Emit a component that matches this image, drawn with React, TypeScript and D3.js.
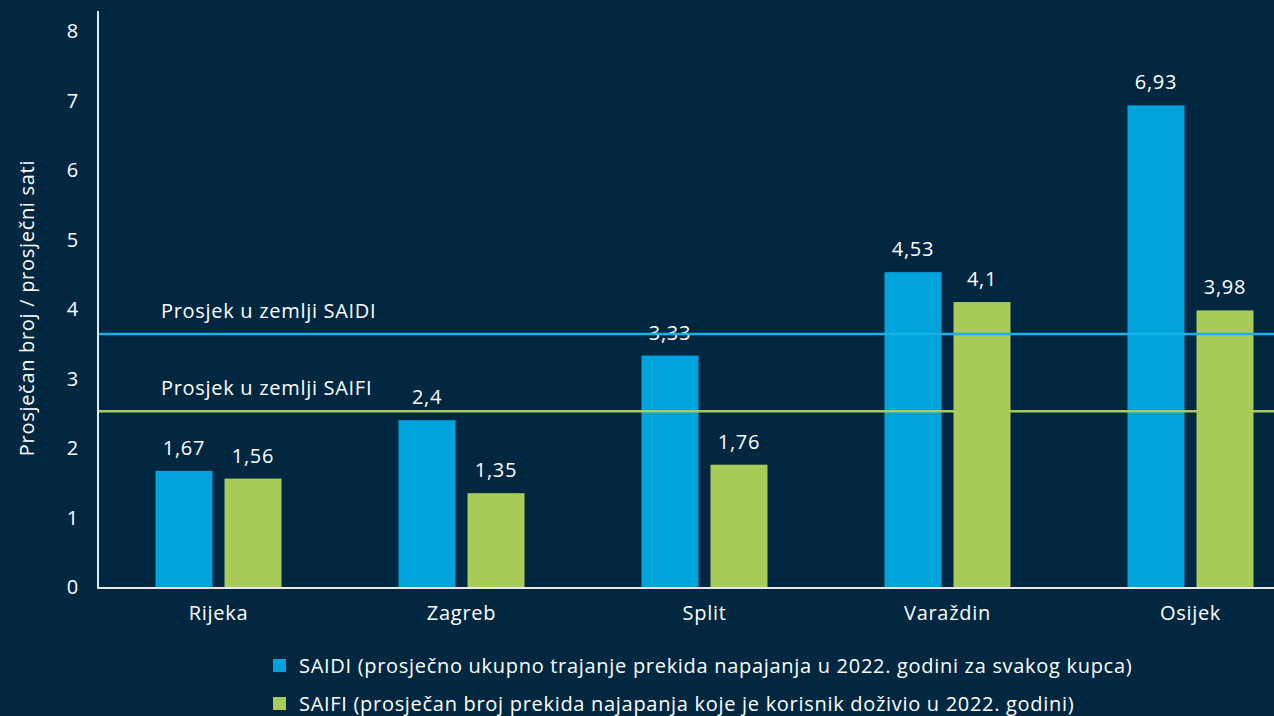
import React from "react";
import * as d3 from "d3";

const categories = ["Rijeka", "Zagreb", "Split", "Varaždin", "Osijek"];
const saidi = [1.67, 2.4, 3.33, 4.53, 6.93];
const saifi = [1.56, 1.35, 1.76, 4.1, 3.98];
const saidiLabels = ["1,67", "2,4", "3,33", "4,53", "6,93"];
const saifiLabels = ["1,56", "1,35", "1,76", "4,1", "3,98"];
const avgSaidi = 3.64;
const avgSaifi = 2.53;
const yTicks = [0, 1, 2, 3, 4, 5, 6, 7, 8];
const legendItems = [
  "SAIDI (prosječno ukupno trajanje prekida napajanja u 2022. godini za svakog kupca)",
  "SAIFI (prosječan broj prekida najapanja koje je korisnik doživio u 2022. godini)",
];

const W = 1274;
const H = 716;
const BG = "#012840";
const BLUE = "#00a3dc";
const GREEN = "#a9cb5a";
const FONT = "'Open Sans', sans-serif";
const FS = 20;
const LS = 0.7;

export default function App() {
  const x = d3.scaleBand<string>().domain(categories).range([97, 1312]);
  const y = d3.scaleLinear().domain([0, 8]).range([587, 31]);
  const barW = 57;
  const gap = 12;
  const series = [
    { vals: saidi, labels: saidiLabels, color: BLUE, off: -gap / 2 - barW },
    { vals: saifi, labels: saifiLabels, color: GREEN, off: gap / 2 },
  ];
  return (
    <svg width={W} height={H} style={{ position: "absolute", left: 0, top: 0, display: "block" }} fontFamily={FONT} letterSpacing={LS}>
      <rect x={0} y={0} width={W} height={H} fill={BG} />
      {series.map((s, si) =>
        categories.map((c, i) => {
          const cx = (x(c) as number) + x.bandwidth() / 2;
          const bx = cx + s.off;
          return (
            <g key={`${si}-${i}`}>
              <rect x={bx} y={y(s.vals[i])} width={barW} height={y(0) - y(s.vals[i])} fill={s.color} />
              <text x={bx + barW / 2} y={y(s.vals[i]) - 16} fill="#ffffff" fontSize={FS} textAnchor="middle">
                {s.labels[i]}
              </text>
            </g>
          );
        })
      )}
      <line x1={98} x2={W} y1={y(avgSaidi)} y2={y(avgSaidi)} stroke="#1ab0e8" strokeWidth={2.5} />
      <line x1={98} x2={W} y1={y(avgSaifi)} y2={y(avgSaifi)} stroke={GREEN} strokeWidth={2.5} />
      <text x={161} y={318} fill="#fff" fontSize={FS}>Prosjek u zemlji SAIDI</text>
      <text x={161} y={395} fill="#fff" fontSize={FS}>Prosjek u zemlji SAIFI</text>
      <line x1={98} x2={98} y1={11} y2={588} stroke="#e8e8e8" strokeWidth={2} />
      <line x1={97} x2={W} y1={588} y2={588} stroke="#e8e8e8" strokeWidth={2} />
      {yTicks.map((t) => (
        <text key={t} x={79} y={y(t) + 7} fill="#fff" fontSize={FS} textAnchor="end">
          {t}
        </text>
      ))}
      {categories.map((c) => (
        <text key={c} x={(x(c) as number) + x.bandwidth() / 2} y={620} fill="#fff" fontSize={FS} textAnchor="middle">
          {c}
        </text>
      ))}
      <text transform="translate(34,308) rotate(-90)" fill="#fff" fontSize={FS} textAnchor="middle">
        Prosječan broj / prosječni sati
      </text>
      {legendItems.map((l, i) => (
        <g key={l}>
          <rect x={273} y={659 + i * 38} width={13} height={13} fill={i === 0 ? BLUE : GREEN} />
          <text x={299} y={673 + i * 38} fill="#fff" fontSize={FS}>
            {l}
          </text>
        </g>
      ))}
    </svg>
  );
}
